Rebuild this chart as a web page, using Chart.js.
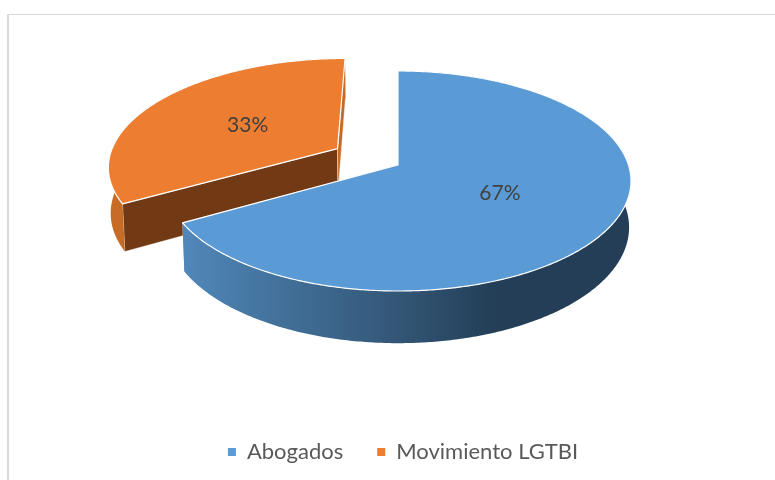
<!DOCTYPE html>
<html>
<head>
<meta charset="utf-8">
<title>Abogados / Movimiento LGTBI</title>
<script src="https://cdn.jsdelivr.net/npm/chart.js@4"></script>
<style>
    html, body { margin: 0; padding: 0; background: #fff; overflow: hidden; }
    #wrap { position: absolute; left: 0; top: 0; width: 775px; height: 480px; }
    #frame {
        position: absolute; left: 7px; top: 14px; right: 0; bottom: 0;
        border-left: 2px solid #d9d9d9; border-top: 1px solid #d9d9d9;
    }
</style>
</head>
<body>
<div id="wrap">
    <div id="frame"></div>
    <canvas id="myChart" width="775" height="480"></canvas>
</div>
<script>
var categories = ['Abogados', 'Movimiento LGTBI'];
// the picture only prints rounded labels (67% / 33%), the cut angle reads as about 2:1
var values = [66.7, 33.3];
var sliceColors = ['#5b9bd5', '#ed7d31'];
var startCutColors = ['#2f5573', '#713a14'];
var endCutColors = ['#2f5573', '#c56a26'];
var outerWallColors = [null, '#c66c27'];
var explode = [0, 0.31];

// tilted view of the disc: u right, v to the back, z 0 on top and 1 on the bottom face
var view = { cx: 398, cy: 165, rx: 230.5, ry: 107.7, k: 0.1453, m: 0.008, depth: 46 };

function project(u, v, z) {
    var w = 1 + view.k * v + view.m * z;
    return {
        x: view.cx + view.rx * u / w,
        y: view.cy + (-view.ry * v + view.depth * z) / w
    };
}

function rimPoint(angle, off, z) {
    return project(Math.cos(angle) + off.u, -Math.sin(angle) + off.v, z);
}

function sliceOffset(el, i) {
    var mid = (el.startAngle + el.endAngle) / 2;
    return { u: Math.cos(mid) * explode[i], v: -Math.sin(mid) * explode[i] };
}

function tracePoints(ctx, points) {
    ctx.beginPath();
    points.forEach(function (p, n) {
        if (n === 0) {
            ctx.moveTo(p.x, p.y);
        } else {
            ctx.lineTo(p.x, p.y);
        }
    });
    ctx.closePath();
}

function rimPoints(el, off, z) {
    var points = [];
    var steps = Math.ceil((el.endAngle - el.startAngle) / 0.01);
    for (var s = 0; s <= steps; s++) {
        points.push(rimPoint(el.startAngle + (el.endAngle - el.startAngle) * s / steps, off, z));
    }
    return points;
}

function drawCut(ctx, angle, off, color) {
    tracePoints(ctx, [
        project(off.u, off.v, 0),
        rimPoint(angle, off, 0),
        rimPoint(angle, off, 1),
        project(off.u, off.v, 1)
    ]);
    ctx.fillStyle = color;
    ctx.fill();
    ctx.strokeStyle = 'rgba(255,255,255,0.55)';
    ctx.lineWidth = 0.8;
    ctx.stroke();
}

function blueWallGradient(ctx) {
    var g = ctx.createLinearGradient(185, 0, 630, 0);
    g.addColorStop(0, '#5087b9');
    g.addColorStop(0.2, '#43729c');
    g.addColorStop(0.48, '#335676');
    g.addColorStop(0.7, '#233e56');
    g.addColorStop(1, '#233e56');
    return g;
}

function drawSlice(ctx, el, i) {
    var off = sliceOffset(el, i);
    var top = rimPoints(el, off, 0);
    var bottom = rimPoints(el, off, 1).reverse();

    drawCut(ctx, el.startAngle, off, startCutColors[i]);
    drawCut(ctx, el.endAngle, off, endCutColors[i]);

    tracePoints(ctx, top.concat(bottom));
    ctx.fillStyle = outerWallColors[i] || blueWallGradient(ctx);
    ctx.fill();

    tracePoints(ctx, [project(off.u, off.v, 0)].concat(top));
    ctx.fillStyle = el.options.backgroundColor;
    ctx.fill();
    ctx.strokeStyle = '#ffffff';
    ctx.lineWidth = 1.2;
    ctx.lineJoin = 'round';
    ctx.stroke();
}

var tiltedPie = {
    id: 'tiltedPie',
    beforeDatasetsDraw: function (chart) {
        var ctx = chart.ctx;
        var arcs = chart.getDatasetMeta(0).data;
        ctx.save();
        // the exploded slice sits behind, the big one goes on top of it
        for (var i = arcs.length - 1; i >= 0; i--) {
            drawSlice(ctx, arcs[i], i);
        }
        ctx.font = '21px Lato';
        ctx.fillStyle = '#404040';
        ctx.textAlign = 'center';
        ctx.textBaseline = 'middle';
        arcs.forEach(function (el, i) {
            var off = sliceOffset(el, i);
            var mid = (el.startAngle + el.endAngle) / 2;
            var p = project(off.u + Math.cos(mid) * 0.49, off.v - Math.sin(mid) * 0.49, 0);
            var share = el.circumference / (2 * Math.PI) * 100;
            ctx.fillText(Math.round(share) + '%', p.x + 0.5, p.y + 1);
        });
        ctx.restore();
        return false;
    }
};

var chart = new Chart(document.getElementById('myChart').getContext('2d'), {
    type: 'pie',
    data: {
        labels: categories,
        datasets: [{
            data: values,
            backgroundColor: sliceColors,
            borderWidth: 0
        }]
    },
    options: {
        responsive: false,
        animation: false,
        layout: { padding: { left: 31, bottom: 7 } },
        plugins: {
            tooltip: { enabled: false },
            legend: {
                position: 'bottom',
                labels: {
                    usePointStyle: true,
                    pointStyle: 'rect',
                    boxWidth: 8,
                    boxHeight: 8,
                    padding: 34,
                    color: '#595959',
                    font: { family: 'Lato', size: 22 }
                }
            }
        }
    },
    plugins: [tiltedPie]
});
</script>
</body>
</html>
